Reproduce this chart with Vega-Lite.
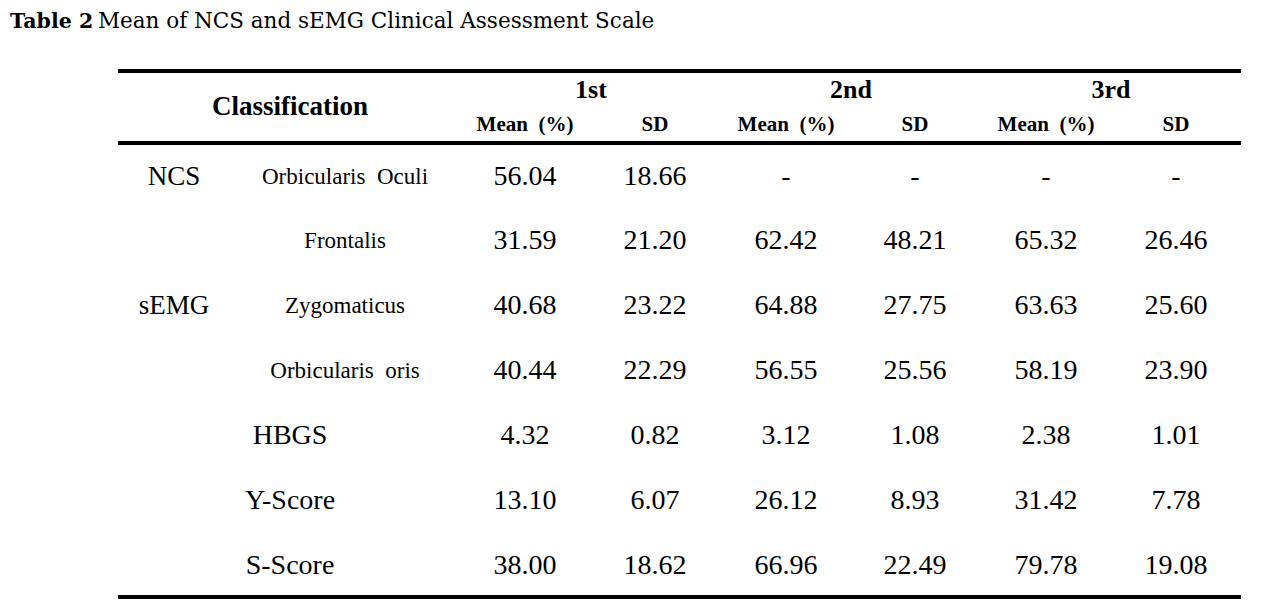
{
  "$schema": "https://vega.github.io/schema/vega-lite/v6.json",
  "width": 1261,
  "height": 601,
  "autosize": {"type": "fit", "contains": "padding"},
  "padding": 0,
  "background": "white",
  "config": {"view": {"stroke": null}, "text": {"color": "#000000", "baseline": "middle"}},
  "datasets": {
    "rules": [
      {"r": 1, "c": 2, "c2": 15},
      {"r": 5, "c": 2, "c2": 15},
      {"r": 13, "c": 2, "c2": 15}
    ],
    "titleBold": [{"r": 0, "c": 0, "text": "Table 2"}],
    "titleRest": [{"r": 0, "c": 1, "text": "Mean of NCS and sEMG Clinical Assessment Scale"}],
    "classHead": [{"r": 3, "c": 4, "text": "Classification"}],
    "groupHead": [
      {"r": 2, "c": 7, "text": "1st"},
      {"r": 2, "c": 10, "text": "2nd"},
      {"r": 2, "c": 13, "text": "3rd"}
    ],
    "subHead": [
      {"r": 4, "c": 6, "text": "Mean\u00a0 (%)"},
      {"r": 4, "c": 8, "text": "SD"},
      {"r": 4, "c": 9, "text": "Mean\u00a0 (%)"},
      {"r": 4, "c": 11, "text": "SD"},
      {"r": 4, "c": 12, "text": "Mean\u00a0 (%)"},
      {"r": 4, "c": 14, "text": "SD"}
    ],
    "groups": [
      {"r": 6, "c": 3, "text": "NCS"},
      {"r": 8, "c": 3, "text": "sEMG"}
    ],
    "muscles": [
      {"r": 6, "c": 5, "text": "Orbicularis\u00a0 Oculi"},
      {"r": 7, "c": 5, "text": "Frontalis"},
      {"r": 8, "c": 5, "text": "Zygomaticus"},
      {"r": 9, "c": 5, "text": "Orbicularis\u00a0 oris"}
    ],
    "scores": [
      {"r": 10, "c": 4, "text": "HBGS"},
      {"r": 11, "c": 4, "text": "Y-Score"},
      {"r": 12, "c": 4, "text": "S-Score"}
    ],
    "cells": [
      {"r": 6, "c": 6, "text": "56.04"}, {"r": 6, "c": 8, "text": "18.66"}, {"r": 6, "c": 9, "text": "-"}, {"r": 6, "c": 11, "text": "-"}, {"r": 6, "c": 12, "text": "-"}, {"r": 6, "c": 14, "text": "-"},
      {"r": 7, "c": 6, "text": "31.59"}, {"r": 7, "c": 8, "text": "21.20"}, {"r": 7, "c": 9, "text": "62.42"}, {"r": 7, "c": 11, "text": "48.21"}, {"r": 7, "c": 12, "text": "65.32"}, {"r": 7, "c": 14, "text": "26.46"},
      {"r": 8, "c": 6, "text": "40.68"}, {"r": 8, "c": 8, "text": "23.22"}, {"r": 8, "c": 9, "text": "64.88"}, {"r": 8, "c": 11, "text": "27.75"}, {"r": 8, "c": 12, "text": "63.63"}, {"r": 8, "c": 14, "text": "25.60"},
      {"r": 9, "c": 6, "text": "40.44"}, {"r": 9, "c": 8, "text": "22.29"}, {"r": 9, "c": 9, "text": "56.55"}, {"r": 9, "c": 11, "text": "25.56"}, {"r": 9, "c": 12, "text": "58.19"}, {"r": 9, "c": 14, "text": "23.90"},
      {"r": 10, "c": 6, "text": "4.32"}, {"r": 10, "c": 8, "text": "0.82"}, {"r": 10, "c": 9, "text": "3.12"}, {"r": 10, "c": 11, "text": "1.08"}, {"r": 10, "c": 12, "text": "2.38"}, {"r": 10, "c": 14, "text": "1.01"},
      {"r": 11, "c": 6, "text": "13.10"}, {"r": 11, "c": 8, "text": "6.07"}, {"r": 11, "c": 9, "text": "26.12"}, {"r": 11, "c": 11, "text": "8.93"}, {"r": 11, "c": 12, "text": "31.42"}, {"r": 11, "c": 14, "text": "7.78"},
      {"r": 12, "c": 6, "text": "38.00"}, {"r": 12, "c": 8, "text": "18.62"}, {"r": 12, "c": 9, "text": "66.96"}, {"r": 12, "c": 11, "text": "22.49"}, {"r": 12, "c": 12, "text": "79.78"}, {"r": 12, "c": 14, "text": "19.08"}
    ]
  },
  "encoding": {
    "x": {"field": "c", "type": "quantitative", "axis": null,
          "scale": {"domain": [0,1,2,3,4,5,6,7,8,9,10,11,12,13,14,15],
                    "range": [10,98,118,174,290,345,525,591,655,786,851,915,1046,1111,1176,1241],
                    "zero": false, "nice": false}},
    "y": {"field": "r", "type": "quantitative", "axis": null,
          "scale": {"domain": [0,1,2,3,4,5,6,7,8,9,10,11,12,13],
                    "range": [22,71,90,107,125,143,177,241,306,371,436,501,566,597],
                    "zero": false, "nice": false}}
  },
  "layer": [
    {"data": {"name": "rules"}, "mark": {"type": "rule", "strokeWidth": 4, "color": "#000000"},
     "encoding": {"x2": {"field": "c2"}}},
    {"data": {"name": "titleBold"}, "mark": {"type": "text", "align": "left", "font": "DejaVu Serif", "fontWeight": "bold", "fontSize": 20.5},
     "encoding": {"text": {"field": "text"}}},
    {"data": {"name": "titleRest"}, "mark": {"type": "text", "align": "left", "font": "DejaVu Serif", "fontSize": 21.5},
     "encoding": {"text": {"field": "text"}}},
    {"data": {"name": "classHead"}, "mark": {"type": "text", "align": "center", "font": "Liberation Serif", "fontWeight": "bold", "fontSize": 27},
     "encoding": {"text": {"field": "text"}}},
    {"data": {"name": "groupHead"}, "mark": {"type": "text", "align": "center", "font": "Liberation Serif", "fontWeight": "bold", "fontSize": 26},
     "encoding": {"text": {"field": "text"}}},
    {"data": {"name": "subHead"}, "mark": {"type": "text", "align": "center", "font": "Liberation Serif", "fontWeight": "bold", "fontSize": 21},
     "encoding": {"text": {"field": "text"}}},
    {"data": {"name": "groups"}, "mark": {"type": "text", "align": "center", "font": "Liberation Serif", "fontSize": 27},
     "encoding": {"text": {"field": "text"}}},
    {"data": {"name": "muscles"}, "mark": {"type": "text", "align": "center", "font": "Liberation Serif", "fontSize": 23},
     "encoding": {"text": {"field": "text"}}},
    {"data": {"name": "scores"}, "mark": {"type": "text", "align": "center", "font": "Liberation Serif", "fontSize": 28},
     "encoding": {"text": {"field": "text"}}},
    {"data": {"name": "cells"}, "mark": {"type": "text", "align": "center", "font": "Liberation Serif", "fontSize": 28},
     "encoding": {"text": {"field": "text"}}}
  ]
}
